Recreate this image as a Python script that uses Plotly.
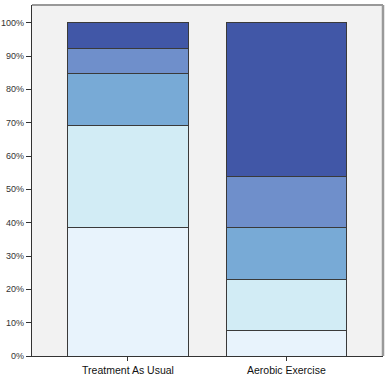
import plotly.graph_objects as go

categories = ["Treatment As Usual", "Aerobic Exercise"]
level1 = [38.5, 7.7]
level2 = [30.8, 15.4]
level3 = [15.4, 15.4]
level4 = [7.7, 15.4]
level5 = [7.7, 46.2]
series = [level1, level2, level3, level4, level5]
colors = ["#E8F3FC", "#D2ECF5", "#78AAD6", "#6F8FCB", "#4157A7"]
y_ticks = [0, 10, 20, 30, 40, 50, 60, 70, 80, 90, 100]
y_tick_labels = [f"{v}%" for v in y_ticks]

fig = go.Figure()
for vals, c in zip(series, colors):
    fig.add_trace(go.Bar(
        x=categories, y=vals, width=0.758,
        marker=dict(color=c, line=dict(color="#3a3a3a", width=1)),
        showlegend=False, hoverinfo="skip"))

fig.update_layout(
    barmode="stack",
    width=389, height=378,
    margin=dict(l=32, r=6, t=5, b=22),
    paper_bgcolor="white",
    plot_bgcolor="#F2F2F2",
    font=dict(family="Liberation Sans, Arial, sans-serif", color="#222"),
    xaxis=dict(
        range=[-0.606, 1.61], showgrid=False, zeroline=False, automargin=False,
        showline=True, linecolor="#333", linewidth=1,
        ticks="outside", ticklen=4, tickcolor="#333",
        tickfont=dict(size=10.5, color="#111"), mirror=False),
    yaxis=dict(
        range=[0, 105.3], tickvals=y_ticks, ticktext=y_tick_labels, automargin=False,
        showgrid=False, zeroline=False,
        showline=True, linecolor="#333", linewidth=1.2,
        ticks="outside", ticklen=5, tickcolor="#333",
        tickfont=dict(size=9, color="#333")),
    shapes=[
        dict(type="line", xref="paper", yref="paper", x0=0, x1=1, y0=1, y1=1,
             line=dict(color="#999", width=2)),
        dict(type="line", xref="paper", yref="paper", x0=1, x1=1, y0=0, y1=1,
             line=dict(color="#999", width=2.5)),
    ],
)

fig.write_html(
    "out.html",
    config={"displayModeBar": False},
    post_script="document.body.style.margin='0';document.body.style.overflow='hidden';",
)
